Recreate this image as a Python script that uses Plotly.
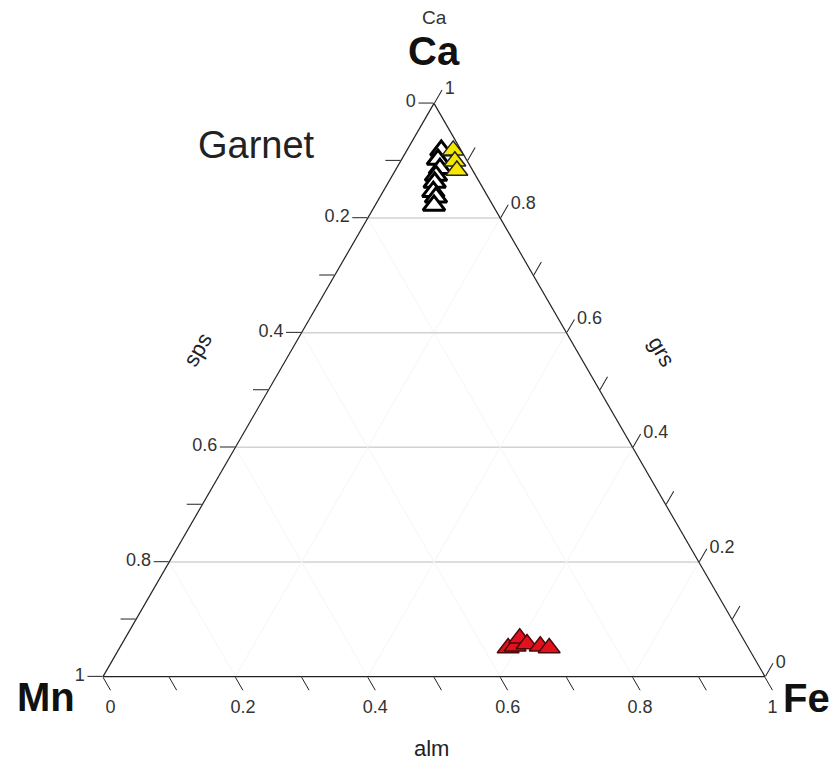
import plotly.graph_objects as go

# ---- data (fractions Ca = grs, Mn = sps, Fe = alm) ----
white_ca = [0.918, 0.902, 0.887, 0.874, 0.862, 0.846, 0.836, 0.822]
white_mn = [0.030, 0.043, 0.048, 0.060, 0.068, 0.078, 0.079, 0.089]
white_fe = [0.052, 0.055, 0.066, 0.066, 0.070, 0.076, 0.085, 0.089]

yellow_ca = [0.918, 0.899, 0.883]
yellow_mn = [0.012, 0.019, 0.024]
yellow_fe = [0.070, 0.082, 0.093]

red_ca = [0.050, 0.053, 0.067, 0.057, 0.053, 0.050]
red_mn = [0.363, 0.351, 0.337, 0.331, 0.313, 0.301]
red_fe = [0.587, 0.596, 0.596, 0.612, 0.634, 0.649]

tick_vals = [0, 0.1, 0.2, 0.3, 0.4, 0.5, 0.6, 0.7, 0.8, 0.9, 1.0]
tick_text = ["0", "", "0.2", "", "0.4", "", "0.6", "", "0.8", "", "1"]
grid_levels = [0.2, 0.4, 0.6, 0.8]

W, H = 835, 761
fig = go.Figure()

# grid lines (through ternary scales)
for g in grid_levels:
    fig.add_trace(go.Scatterternary(a=[g, g], b=[1 - g, 0], c=[0, 1 - g], mode="lines",
                                    line=dict(color="#d2d2d2", width=1.5), hoverinfo="skip", showlegend=False))
    fig.add_trace(go.Scatterternary(a=[1 - g, 0], b=[g, g], c=[0, 1 - g], mode="lines",
                                    line=dict(color="#f5f5f5", width=1), hoverinfo="skip", showlegend=False))
    fig.add_trace(go.Scatterternary(a=[1 - g, 0], b=[0, 1 - g], c=[g, g], mode="lines",
                                    line=dict(color="#f5f5f5", width=1), hoverinfo="skip", showlegend=False))

fig.add_trace(go.Scatterternary(a=white_ca, b=white_mn, c=white_fe, mode="markers",
                                marker=dict(symbol="triangle-up", size=19, color="white",
                                            line=dict(color="black", width=3)), showlegend=False))
fig.add_trace(go.Scatterternary(a=yellow_ca, b=yellow_mn, c=yellow_fe, mode="markers",
                                marker=dict(symbol="triangle-up", size=19, color="#f5e800",
                                            line=dict(color="#222", width=1.5)), showlegend=False))
fig.add_trace(go.Scatterternary(a=red_ca, b=red_mn, c=red_fe, mode="markers",
                                marker=dict(symbol="triangle-up", size=19, color="#e3101e",
                                            line=dict(color="#4a0a0a", width=1.5)), showlegend=False))

tick_font = dict(family="Liberation Sans, Arial", size=18, color="#333")
rev_text = tick_text[::-1]


def ax():
    return dict(tickmode="array", tickvals=tick_vals, ticktext=rev_text, ticks="outside",
                ticklen=15, tickwidth=1, tickcolor="#222", showgrid=False,
                linecolor="#222", linewidth=1.2, tickfont=tick_font, title=dict(text=""),
                min=0)


fig.update_layout(
    width=W, height=H, margin=dict(l=0, r=0, t=0, b=0),
    paper_bgcolor="white", plot_bgcolor="white",
    ternary=dict(domain=dict(x=[103 / W, 765 / W], y=[84 / H, 658 / H]),
                 sum=1, bgcolor="white", aaxis=ax(), baxis=ax(), caxis=ax()),
    showlegend=False,
)


def ann(text, x, y, size, bold=False, angle=0, color="#111"):
    fig.add_annotation(text=f"<b>{text}</b>" if bold else text, x=x / W, y=1 - y / H,
                       xref="paper", yref="paper", showarrow=False, textangle=angle,
                       font=dict(family="Liberation Sans, Arial", size=size, color=color),
                       xanchor="center", yanchor="middle")


ann("Ca", 434, 18, 19, color="#333")
ann("Ca", 434, 51, 40, bold=True)
ann("Mn", 46, 697, 40, bold=True)
ann("Fe", 806, 698, 40, bold=True)
ann("Garnet", 256, 145, 38, color="#222")
ann("sps", 198, 350, 22, angle=-60, color="#222")
ann("grs", 662, 351, 22, angle=60, color="#222")
ann("alm", 431, 748, 22, color="#222")

fig.write_html("out.html")
